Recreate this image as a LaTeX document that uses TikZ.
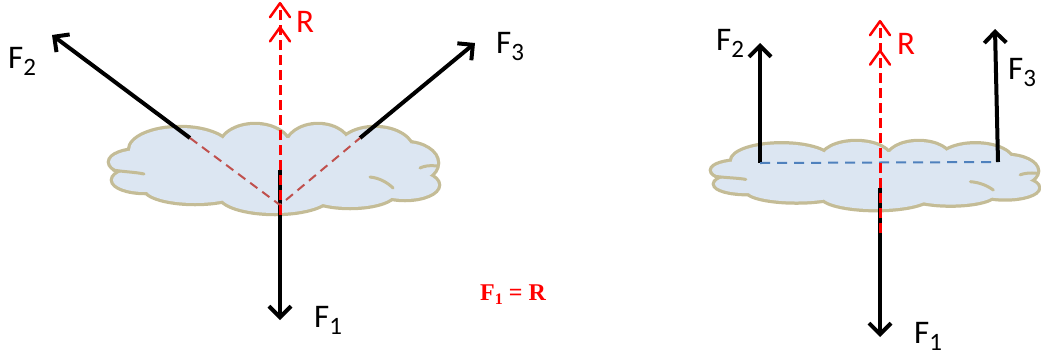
\documentclass[tikz,border=0pt]{standalone}
\usepackage{fontspec}
\setmainfont{Carlito}
\newfontfamily\timesfont{Liberation Serif}
\usetikzlibrary{arrows.meta,decorations.markings}
\definecolor{cloudfill}{HTML}{DCE6F2}
\definecolor{cloudline}{HTML}{C4BC96}
\definecolor{vred}{HTML}{FF0000}
\definecolor{guide}{HTML}{C0504D}
\definecolor{guideblue}{HTML}{4F81BD}
\newcommand\Fsub[1]{F\raisebox{-7pt}{\fontsize{25}{25}\selectfont #1}}
\newcommand\cloudshape{%
  \foreach \cx/\cy/\rx/\ry in {180/150/50/22, 255/148/35/23, 318/148/32/23, 375/152/38/24, 405/163/32/20, 405/185/33/14, 350/192/45/15, 275/195/55/18, 195/188/50/15, 140/162/30/12, 145/180/32/12, 275/168/130/30}
    {\draw[cloudline, line width=6.5pt] (\cx,\cy) ellipse [x radius=\rx, y radius=\ry];}
  \foreach \cx/\cy/\rx/\ry in {180/150/50/22, 255/148/35/23, 318/148/32/23, 375/152/38/24, 405/163/32/20, 405/185/33/14, 350/192/45/15, 275/195/55/18, 195/188/50/15, 140/162/30/12, 145/180/32/12, 275/168/130/30}
    {\fill[cloudfill] (\cx,\cy) ellipse [x radius=\rx, y radius=\ry];}
  \draw[curl] (113,170) .. controls (125,172) and (135,172) .. (144,174);
  \draw[curl] (370,177) .. controls (380,178) and (388,183) .. (393,188);
  \draw[curl] (437,166) .. controls (430,165) and (424,166) .. (420,168);
}
\tikzset{
  curl/.style={cloudline, line width=3pt, line cap=round},
  force/.style={line width=4pt, draw=black, -{Straight Barb[length=11pt,width=22pt]}},
  chevron/.style={solid, line width=2.5pt, draw=vred, line cap=round, line join=round},
  resultant/.style={line width=3pt, color=vred, dash pattern=on 10pt off 5pt,
    postaction={decorate},
    decoration={markings,
      mark=at position #1 with {\draw[chevron] (-14pt,-10pt) -- (0pt,0pt) -- (-14pt,10pt);},
      mark=at position 0.999 with {\draw[chevron] (-14pt,-10pt) -- (0pt,0pt) -- (-14pt,10pt);}}},
  guideline/.style={line width=2pt, draw=guide, dash pattern=on 9pt off 6pt},
  guidelineb/.style={line width=2pt, draw=guideblue, dash pattern=on 10pt off 7pt},
  lbl/.style={inner sep=0pt, anchor=base west, font=\fontsize{33}{33}\selectfont},
}
\begin{document}
\begin{tikzpicture}[x=1pt, y=-1pt]
\useasboundingbox (0,0) rectangle (1041,360);
% ---------- left ----------
\begin{scope}
  \cloudshape
\end{scope}
\coordinate (L0) at (280,205);
\coordinate (L2) at (190,138);
\coordinate (L3) at (360,138);
\coordinate (L1s) at (280,170);
\coordinate (L1e) at (280,320);
\coordinate (L2e) at (52,35);
\coordinate (L3e) at (475,43);
\coordinate (LRs) at (280,215);
\coordinate (LRe) at (280,3);
\draw[force] (L1s) -- (L1e);
\draw[force] (L2) -- (L2e);
\draw[force] (L3) -- (L3e);
\draw[guideline] (L2) -- (L0) -- (L3);
\draw[resultant=0.885] (LRs) -- (LRe);
\node[lbl] (lF2) at (8,68) {\Fsub{2}};
\node[lbl] (lF3) at (496,53) {\Fsub{3}};
\node[lbl] (lF1) at (314,327) {\Fsub{1}};
\node[lbl, text=vred] (lR) at (296,32) {R};
\node[inner sep=0pt, anchor=base west, text=vred, font=\timesfont\bfseries\fontsize{24}{24}\selectfont] (eq) at (480,300) {F\raisebox{-0.2em}{\fontsize{16}{16}\selectfont 1} = R};
% ---------- right ----------
\begin{scope}[shift={(712,142)}, xscale=0.994, yscale=0.763, shift={(-110,-125)}]
  \cloudshape
\end{scope}
\coordinate (R2) at (760,163);
\coordinate (R2e) at (760,43);
\coordinate (R3) at (998,162);
\coordinate (R3e) at (995,29);
\coordinate (R1s) at (880,188);
\coordinate (R1e) at (880,337);
\coordinate (RRs) at (880,233);
\coordinate (RRe) at (880,21);
\draw[force] (R2) -- (R2e);
\draw[force] (R3) -- (R3e);
\draw[force] (R1s) -- (R1e);
\draw[guidelineb] (R2) -- (R3);
\draw[resultant=0.86] (RRs) -- (RRe);
\node[lbl] (rF2) at (716,50) {\Fsub{2}};
\node[lbl] (rF3) at (1008,79) {\Fsub{3}};
\node[lbl] (rF1) at (914,343) {\Fsub{1}};
\node[lbl, text=vred] (rR) at (897,54) {R};
\end{tikzpicture}
\end{document}
